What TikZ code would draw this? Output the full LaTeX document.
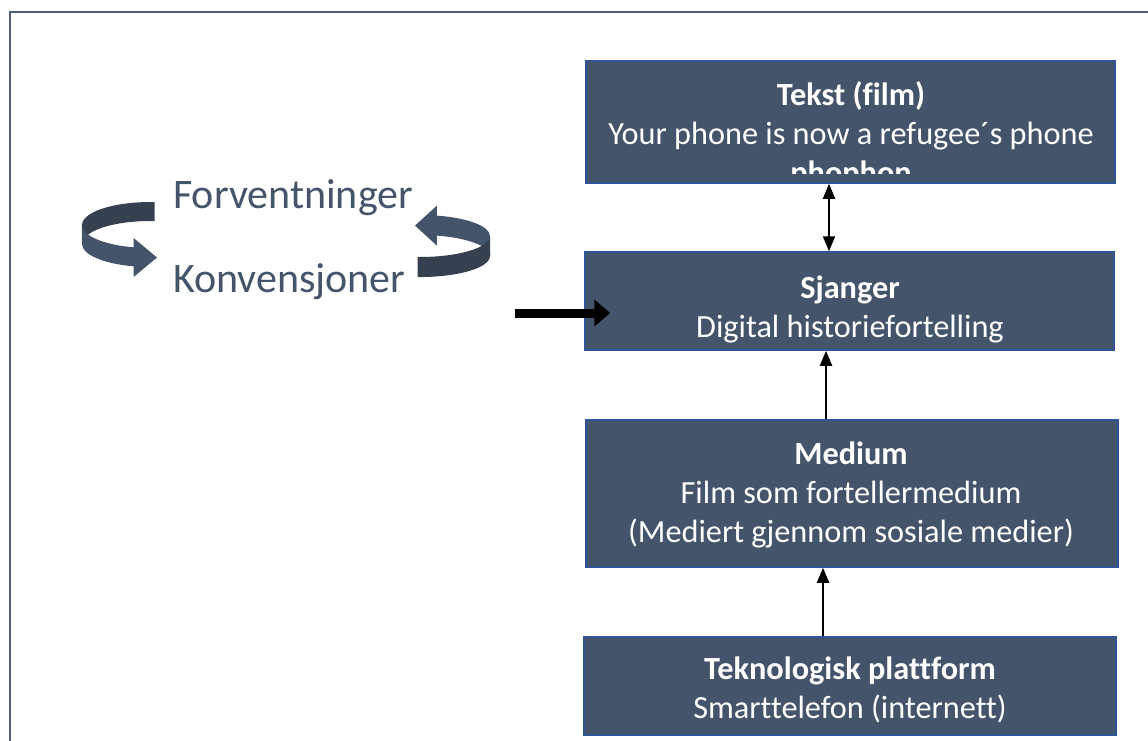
\documentclass[tikz,border=0pt]{standalone}
\usepackage{fontspec}
\setmainfont{Carlito}[Ligatures=NoCommon]
\usetikzlibrary{arrows.meta}
\definecolor{boxfill}{HTML}{44546A}
\definecolor{boxline}{HTML}{2F5597}
\definecolor{darkrib}{HTML}{35414F}
\definecolor{framec}{HTML}{4E5D73}
\tikzset{
 box/.style={draw=boxline, line width=1.5pt, fill=boxfill, inner sep=0pt},
 boxtext/.style={text=white, align=center, font=\fontsize{32.3}{39}\selectfont, inner sep=0pt},
 conn/.style={draw=black, line width=2pt, -{Triangle[width=12pt,length=15pt]}},
 biconn/.style={draw=black, line width=2pt, {Triangle[width=12pt,length=15pt]}-{Triangle[width=12pt,length=15pt]}},
 bigarrow/.style={draw=black, line width=9pt, -{Triangle[width=26pt,length=16pt]}},
 lbl/.style={text=boxfill, font=\fontsize{42}{50}\selectfont, inner sep=0pt}
}
\begin{document}
\begin{tikzpicture}[x=1pt,y=-1pt]
\useasboundingbox (0,0) rectangle (1148,740);
\clip (0,0) rectangle (1148,740);
\fill[white] (0,0) rectangle (1148,740);
\draw[framec, line width=2.5pt] (10,12) rectangle (1170,770);

% boxes
\node[box, minimum width=529pt, minimum height=122pt] (tekst) at (850.5,122) {};
\node[box, minimum width=529pt, minimum height=98pt] (sjanger) at (849.5,301) {};
\node[box, minimum width=532pt, minimum height=147pt] (medium) at (852,493.5) {};
\node[box, minimum width=532pt, minimum height=98pt] (tekno) at (850,686) {};

\begin{scope}
\clip (588,63) rectangle (1113,173);
\node[boxtext] (tekstT) at (851,135.5) {\textbf{Tekst (film)}\\Your phone is now a refugee´s phone\\\textbf{phophon}};
\end{scope}
\node[boxtext] (sjangerT) at (850,309) {\textbf{Sjanger}\\Digital historiefortelling};
\node[boxtext] (mediumT) at (851,494.5) {\textbf{Medium}\\Film som fortellermedium\\(Mediert gjennom sosiale medier)};
\node[boxtext] (teknoT) at (850,690) {\textbf{Teknologisk plattform}\\Smarttelefon (internett)};

% connectors
\draw[biconn] ([xshift=-21.5pt]tekst.south) -- ([xshift=-20.5pt]sjanger.north);
\draw[conn] ([xshift=-26pt]medium.north) -- ([xshift=-23.5pt]sjanger.south);
\draw[conn] ([xshift=-27pt]tekno.north) -- ([xshift=-29pt]medium.south);

\coordinate (bigstart) at (515,313);
\draw[bigarrow] (bigstart) -- ([xshift=26pt]sjanger.west |- bigstart);

% labels
\node[lbl, anchor=base west] (forv) at (173,208) {Forventninger};
\node[lbl, anchor=base west] (konv) at (173,292) {Konvensjoner};

% left curved arrow
\fill[darkrib] (154.7,202.1) arc[start angle=-86, end angle=-180, x radius=68, y radius=23] -- (82,244) arc[start angle=-180, end angle=-86, x radius=68, y radius=23] -- cycle;
\fill[boxfill] (82,225) arc[start angle=180, end angle=104, x radius=68, y radius=23] -- (133.55,238) -- (157,257.5) -- (133.55,277) -- (133.55,266.3) arc[start angle=104, end angle=180, x radius=68, y radius=23] -- cycle;

% right curved arrow
\fill[boxfill] (436.9,215.6) arc[start angle=-76, end angle=0, x radius=70, y radius=21] -- (490,256) arc[start angle=0, end angle=-76, x radius=70, y radius=21] -- (436.9,245.6) -- (415,225.6) -- (436.9,205.6) -- cycle;
\fill[darkrib] (490,236) arc[start angle=0, end angle=92, x radius=70, y radius=21] -- (417.6,277) arc[start angle=92, end angle=0, x radius=70, y radius=21] -- cycle;
\end{tikzpicture}
\end{document}
